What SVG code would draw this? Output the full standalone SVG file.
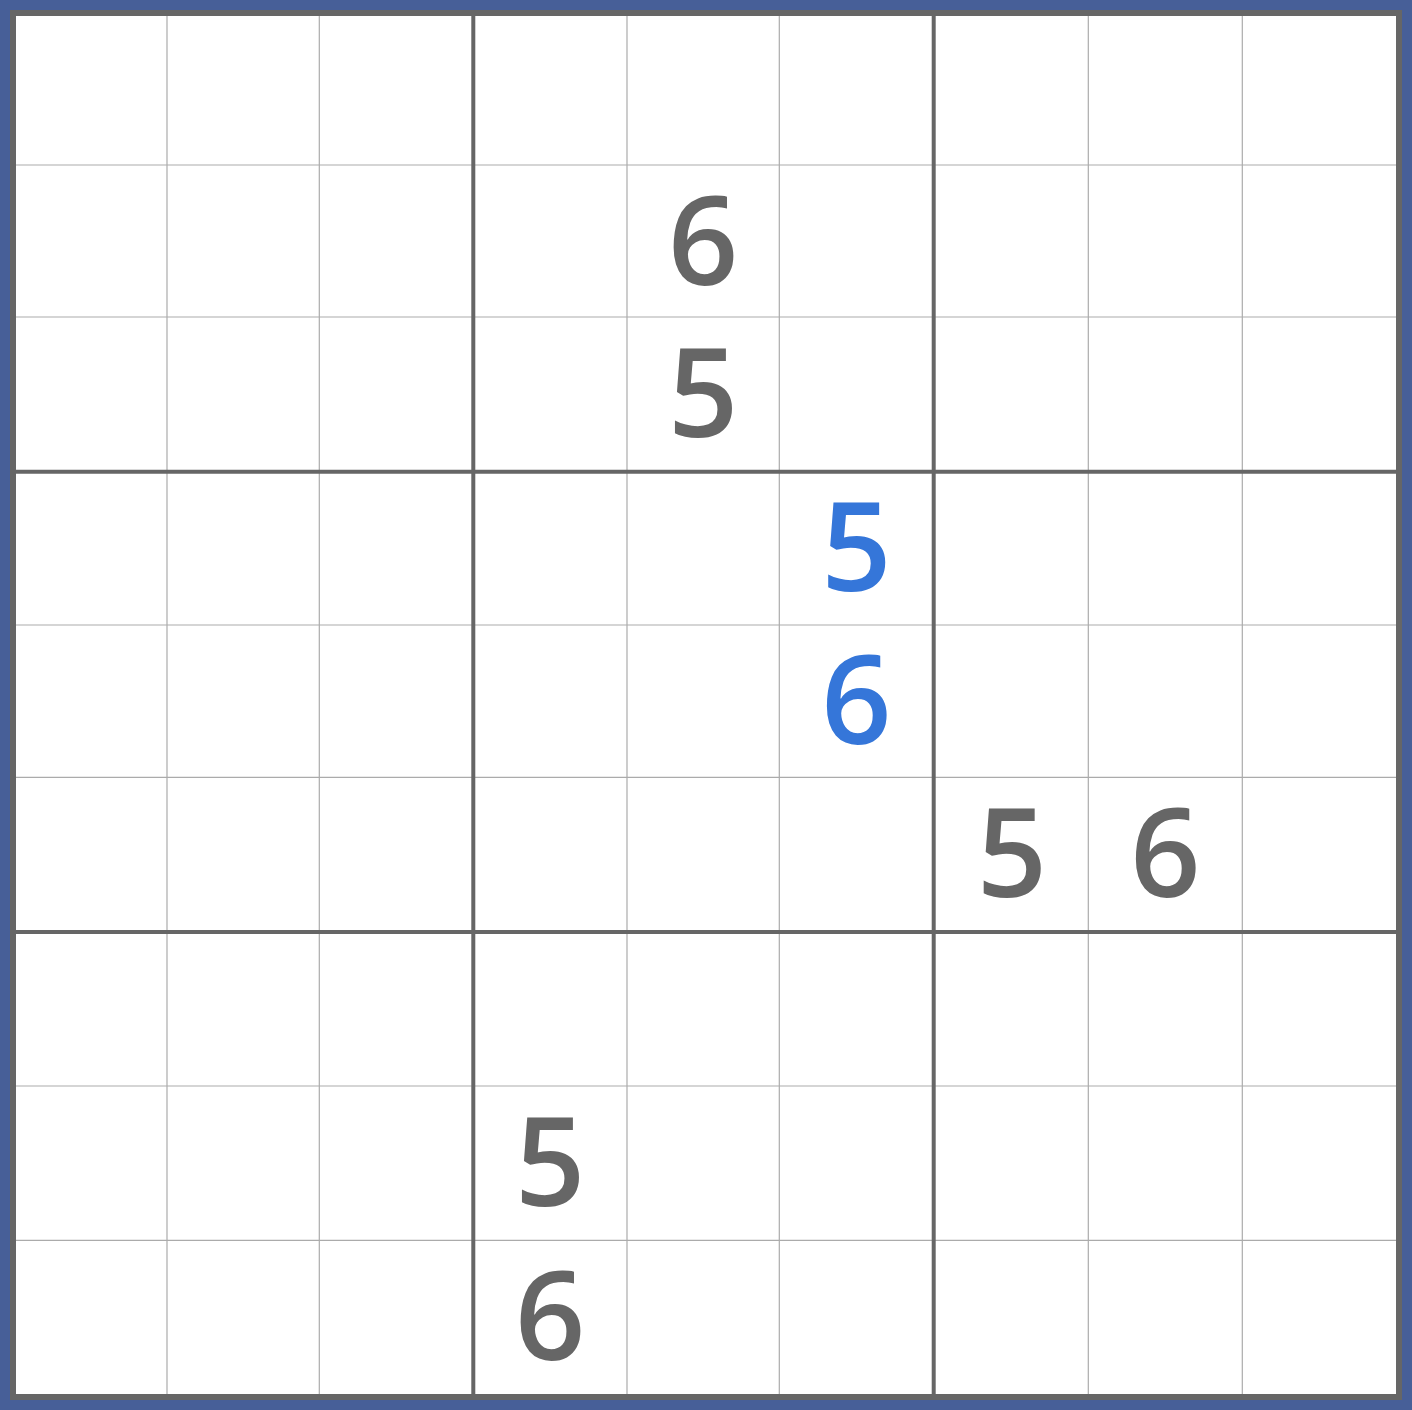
<svg xmlns="http://www.w3.org/2000/svg" width="1412" height="1410" viewBox="0 0 1412 1410">
<style>
.thin{stroke:#ababab;stroke-width:1.2}
.thick{stroke:#666666;stroke-width:4}
.d{font-family:"Open Sans","Noto Sans",sans-serif;font-weight:600;font-size:123px;text-anchor:middle;fill:#666666}
.b{fill:#3576d9}
</style>
<rect x="0" y="0" width="1412" height="1410" fill="#475f98"/>
<rect x="13" y="13" width="1386" height="1384" fill="#ffffff" stroke="#666666" stroke-width="6"/>
<g id="grid">
<g id="thin-lines" class="thin">
<line x1="167" y1="16" x2="167" y2="1394"/>
<line x1="319.3" y1="16" x2="319.3" y2="1394"/>
<line x1="627" y1="16" x2="627" y2="1394"/>
<line x1="779.3" y1="16" x2="779.3" y2="1394"/>
<line x1="1088.3" y1="16" x2="1088.3" y2="1394"/>
<line x1="1242.3" y1="16" x2="1242.3" y2="1394"/>
<line x1="16" y1="165" x2="1396" y2="165"/>
<line x1="16" y1="317" x2="1396" y2="317"/>
<line x1="16" y1="625" x2="1396" y2="625"/>
<line x1="16" y1="777.3" x2="1396" y2="777.3"/>
<line x1="16" y1="1086" x2="1396" y2="1086"/>
<line x1="16" y1="1240.3" x2="1396" y2="1240.3"/>
</g>
<g id="thick-lines" class="thick">
<line x1="473.3" y1="16" x2="473.3" y2="1394"/>
<line x1="933.7" y1="16" x2="933.7" y2="1394"/>
<line x1="16" y1="471.7" x2="1396" y2="471.7"/>
<line x1="16" y1="932" x2="1396" y2="932"/>
</g>
</g>
<g id="digits">
<text id="r1c4" class="d" x="703.2" y="285">6</text>
<text id="r2c4" class="d" x="703.2" y="437">5</text>
<text id="r3c5" class="d b" x="856.5" y="591">5</text>
<text id="r4c5" class="d b" x="856.5" y="744">6</text>
<text id="r5c6" class="d" x="1012" y="897">5</text>
<text id="r5c7" class="d" x="1165.3" y="897">6</text>
<text id="r7c3" class="d" x="550.2" y="1206">5</text>
<text id="r8c3" class="d" x="550.2" y="1360">6</text>
</g>
</svg>
